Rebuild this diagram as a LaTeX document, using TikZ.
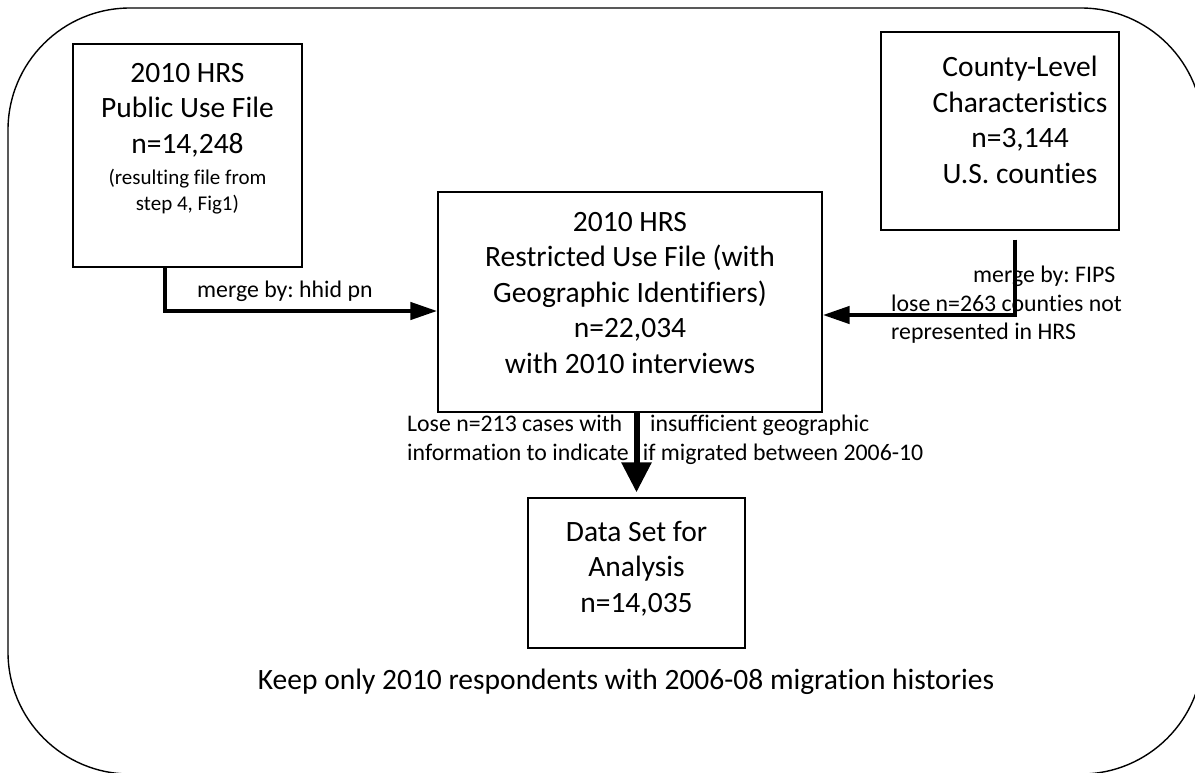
\documentclass[tikz,border=0pt]{standalone}
\usepackage{fontspec}
\setmainfont{Carlito}[Ligatures=NoCommon]
\usetikzlibrary{arrows.meta,positioning}
\frenchspacing

\begin{document}
\begin{tikzpicture}[x=1pt,y=-1pt,
	box/.style={draw,line width=1.4pt,inner sep=0pt},
	boxtext/.style={align=center,inner sep=0pt,font=\fontsize{29.5}{35.5}\selectfont},
	note/.style={align=center,inner sep=0pt,font=\fontsize{21}{26}\selectfont},
	lbl/.style={align=left,inner sep=0pt,font=\fontsize{23.8}{28.5}\selectfont},
	flow/.style={line width=4.5pt,-{Triangle[length=27pt,width=17pt]}}]

	\useasboundingbox (0,0) rectangle (1195,772);
	\begin{scope}
	\clip (0,0) rectangle (1195,772);
	\draw[line width=1.4pt,rounded corners=122pt] (8,8) rectangle (1203,774);
	\end{scope}

	% boxes
	\node[box,minimum width=229pt,minimum height=223pt] (pub) at (187.5,155.5) {};
	\node[box,minimum width=238pt,minimum height=198pt] (county) at (1000,131) {};
	\node[box,minimum width=384pt,minimum height=220pt] (restr) at (630,302) {};
	\node[box,minimum width=217pt,minimum height=150pt] (final) at (636.5,573) {};

	\node[boxtext,anchor=north] (pubtxt) at (187.5,63) {2010 HRS\\Public Use File\\n=14,248};
	\node[note,anchor=north] (pubnote) at (187.5,169) {(resulting file from\\step 4, Fig1)};
	\node[boxtext,anchor=north] (countytxt) at (1020,56) {County-Level\\Characteristics\\n=3,144\\U.S. counties};
	\node[boxtext,anchor=north] (restrtxt) at (630,212) {2010 HRS\\Restricted Use File (with\\Geographic Identifiers)\\n=22,034\\with 2010 interviews};
	\node[boxtext,anchor=north] (finaltxt) at (636.5,521) {Data Set for\\Analysis\\n=14,035};

	% merges
	\draw[flow] ([xshift=-22.5pt]pub.south) |- ([yshift=-9pt]restr.west);
	\draw[flow] ([xshift=15pt,yshift=-9pt]county.south) |- ([yshift=-13pt]restr.east);
	\draw[flow,line width=6pt,-{Triangle[length=30pt,width=29pt]}] (final.north |- restr.south) -- ([yshift=5pt]final.north);

	\node[lbl,anchor=base west] (mergel) at (197,297) {merge by: hhid pn};
	\node[lbl,anchor=north west] (merger) at (891,266) {\hspace*{82pt}merge by: FIPS\\lose n=263 counties not\\represented in HRS};
	\node[lbl,anchor=north west] (lose) at (407,415) {Lose n=213 cases with\hspace{28pt}insufficient geographic\\information to indicate\hspace{14pt}if migrated between 2006-10};

	\node[boxtext,anchor=base] (keep) at (626,689) {Keep only 2010 respondents with 2006-08 migration histories};

\end{tikzpicture}
\end{document}
